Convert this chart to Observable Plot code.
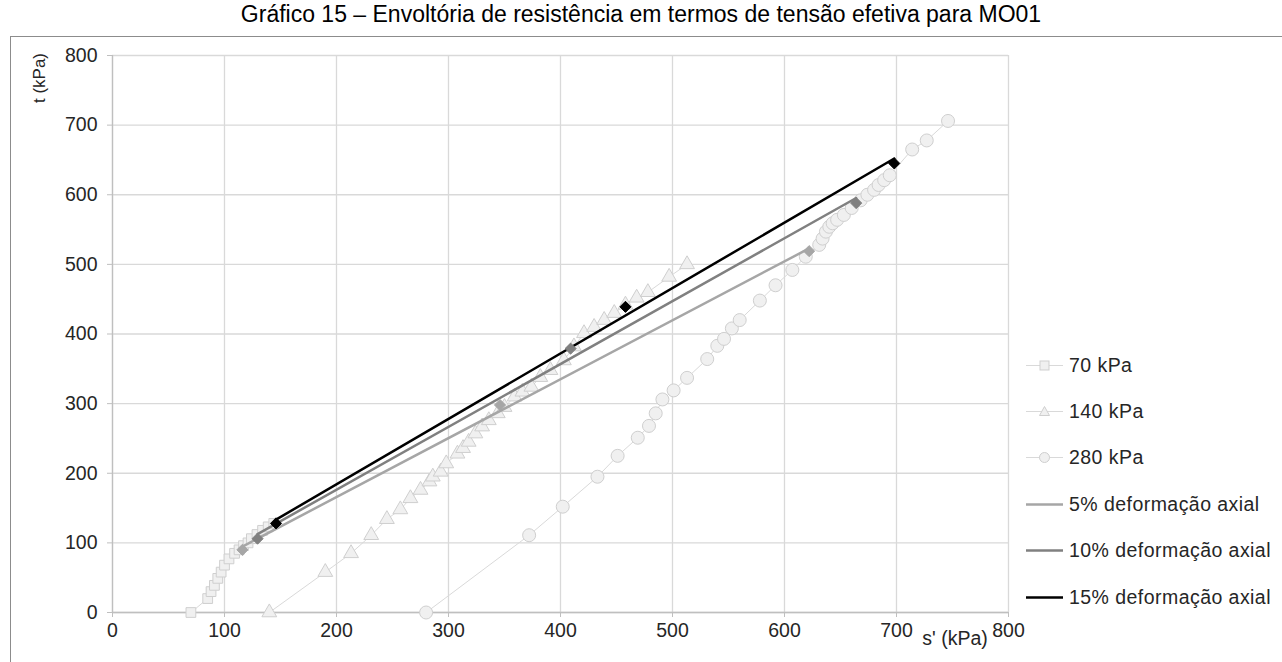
<!DOCTYPE html>
<html><head><meta charset="utf-8">
<script src="https://cdn.jsdelivr.net/npm/d3@7"></script>
<script src="https://cdn.jsdelivr.net/npm/@observablehq/plot@0.6"></script>
<style>
body{margin:0;background:#fff;font-family:"Liberation Sans",Arial,sans-serif;}
#wrap{position:relative;width:1282px;height:662px;overflow:hidden;background:#fff;}
#title{position:absolute;left:0;width:1282px;top:1px;line-height:normal;text-align:center;font-size:23px;color:#000;white-space:nowrap;}
#frame{position:absolute;left:10px;top:36px;width:1300px;height:700px;border-top:1px solid #8c8c8c;border-left:1px solid #8c8c8c;}
#chart{position:absolute;left:0;top:0;}
#ylab{position:absolute;left:40px;top:78px;transform:translate(-50%,-50%) rotate(-90deg);font-size:17px;color:#262626;white-space:nowrap;}
#xlab{position:absolute;left:955px;top:638px;transform:translate(-50%,-50%);font-size:19.5px;color:#262626;white-space:nowrap;}
#legend{position:absolute;left:1026px;top:342px;}
.li{display:flex;align-items:center;height:46.4px;font-size:19.5px;letter-spacing:0.45px;color:#262626;white-space:nowrap;}
.li svg{margin-right:6px;}
</style></head><body>
<div id="wrap">
<div id="frame"></div>
<div id="chart"></div>
<div id="title">Gráfico 15 – Envoltória de resistência em termos de tensão efetiva para MO01</div>
<div id="ylab">t (kPa)</div>
<div id="xlab">s' (kPa)</div>
<div id="legend"></div>
</div>
<script>
// Tick values
const xTicks = [0,100,200,300,400,500,600,700,800];
const yTicks = [0,100,200,300,400,500,600,700,800];

// Stress paths (s', t) in kPa
const s70 = [[70,0],[85,20],[88,30],[91,39],[94,49],[97,58],[100,68],[104,77],[109,85],[113,90],[117,96],[121,100],[124,106],[129,112],[134,118],[139,123],[144,128]];
const s140 = [[140,0],[190,58],[213,85],[231,111],[245,134],[257,148],[266,164],[275,176],[283,188],[286,195],[293,202],[298,214],[308,228],[313,236],[318,245],[324,257],[330,267],[336,276],[344,286],[350,295],[359,310],[366,317],[374,324],[382,338],[391,348],[403,362],[412,382],[421,401],[430,410],[439,420],[448,430],[458,442],[468,452],[478,460],[497,482],[513,500]];
const s280 = [[280,0],[372,111],[402,152],[433,195],[451,225],[469,251],[479,268],[485,286],[491,306],[501,319],[513,337],[531,364],[540,383],[546,393],[553,408],[560,420],[578,448],[592,470],[607,492],[619,511],[631,528],[634,537],[637,547],[640,554],[643,559],[647,564],[653,571],[660,581],[668,592],[674,600],[680,607],[684,614],[689,621],[694,628],[714,665],[727,678],[746,706]];

// Failure points at axial strain levels
const d5 = [[116,90],[346,298],[622,519]];
const d10 = [[129.5,106],[409,379],[664,588]];
const d15 = [[146,128],[458,439],[698,645]];

const seriesNames = ["70 kPa","140 kPa","280 kPa","5% deformação axial","10% deformação axial","15% deformação axial"];

const toObj = a => a.map(([s,t]) => ({s,t}));
const P70 = toObj(s70), P140 = toObj(s140), P280 = toObj(s280);
const D5 = toObj(d5), D10 = toObj(d10), D15 = toObj(d15);

const pathStroke = "#d9d9d9", markFill = "#f0f0f0", markStroke = "#cfcfcf";
const c5 = "#a6a6a6", c10 = "#808080", c15 = "#000000";

const plot = Plot.plot({
  width: 1282, height: 662,
  marginLeft: 112, marginRight: 274, marginTop: 55, marginBottom: 50,
  style: {fontFamily: "Liberation Sans, Arial, sans-serif", fontSize: "19.5px", color: "#262626", background: "transparent"},
  x: {domain: [0, 800]},
  y: {domain: [0, 800]},
  marks: [
    Plot.gridX(xTicks, {stroke: "#d9d9d9", strokeOpacity: 1, strokeWidth: 1.3}),
    Plot.gridY(yTicks, {stroke: "#d9d9d9", strokeOpacity: 1, strokeWidth: 1.3}),
    Plot.ruleX([0], {stroke: "#bfbfbf", strokeWidth: 1.3}),
    Plot.ruleY([0], {stroke: "#bfbfbf", strokeWidth: 1.3}),
    Plot.axisX(xTicks, {tickSize: 5, tickPadding: 6, stroke: "#bfbfbf", label: null, fontSize: 19.5}),
    Plot.axisY(yTicks, {tickSize: 5, tickPadding: 10, stroke: "#bfbfbf", label: null, fontSize: 19.5}),
    Plot.line(P70, {x: "s", y: "t", stroke: pathStroke, strokeWidth: 1}),
    Plot.line(P140, {x: "s", y: "t", stroke: pathStroke, strokeWidth: 1}),
    Plot.line(P280, {x: "s", y: "t", stroke: pathStroke, strokeWidth: 1}),
    Plot.dot(P70, {x: "s", y: "t", symbol: "square", r: 5.5, fill: markFill, stroke: markStroke, strokeWidth: 1}),
    Plot.dot(P140, {x: "s", y: "t", symbol: "triangle", r: 5.5, fill: markFill, stroke: markStroke, strokeWidth: 1}),
    Plot.dot(P280, {x: "s", y: "t", symbol: "circle", r: 6.5, fill: markFill, stroke: markStroke, strokeWidth: 1}),
    Plot.linearRegressionY(D5, {x: "s", y: "t", stroke: c5, strokeWidth: 2.5, ci: 0}),
    Plot.linearRegressionY(D10, {x: "s", y: "t", stroke: c10, strokeWidth: 2.5, ci: 0}),
    Plot.linearRegressionY(D15, {x: "s", y: "t", stroke: c15, strokeWidth: 2.5, ci: 0}),
    Plot.dot(D5, {x: "s", y: "t", symbol: "diamond2", r: 5, fill: c5, stroke: c5, strokeWidth: 1}),
    Plot.dot(D10, {x: "s", y: "t", symbol: "diamond2", r: 5, fill: c10, stroke: c10, strokeWidth: 1}),
    Plot.dot(D15, {x: "s", y: "t", symbol: "diamond2", r: 5, fill: c15, stroke: c15, strokeWidth: 1})
  ]
});
document.getElementById("chart").appendChild(plot);

// Legend
const legendMarkers = [
  `<rect x="14" y="4" width="9" height="9" fill="${markFill}" stroke="${markStroke}"/>`,
  `<path d="M18.5,3.5 L23.5,12.5 L13.5,12.5 Z" fill="${markFill}" stroke="${markStroke}"/>`,
  `<circle cx="18.5" cy="8.5" r="5" fill="${markFill}" stroke="${markStroke}"/>`,
  "", "", ""
];
const legendLine = [pathStroke, pathStroke, pathStroke, c5, c10, c15];
const legendWidth = [1, 1, 1, 2.5, 2.5, 2.5];
const lg = document.getElementById("legend");
seriesNames.forEach((name, i) => {
  const div = document.createElement("div");
  div.className = "li";
  div.innerHTML = `<svg width="37" height="17"><line x1="0" y1="8.5" x2="37" y2="8.5" stroke="${legendLine[i]}" stroke-width="${legendWidth[i]}"/>${legendMarkers[i]}</svg><span>${name}</span>`;
  lg.appendChild(div);
});
</script>
</body></html>
